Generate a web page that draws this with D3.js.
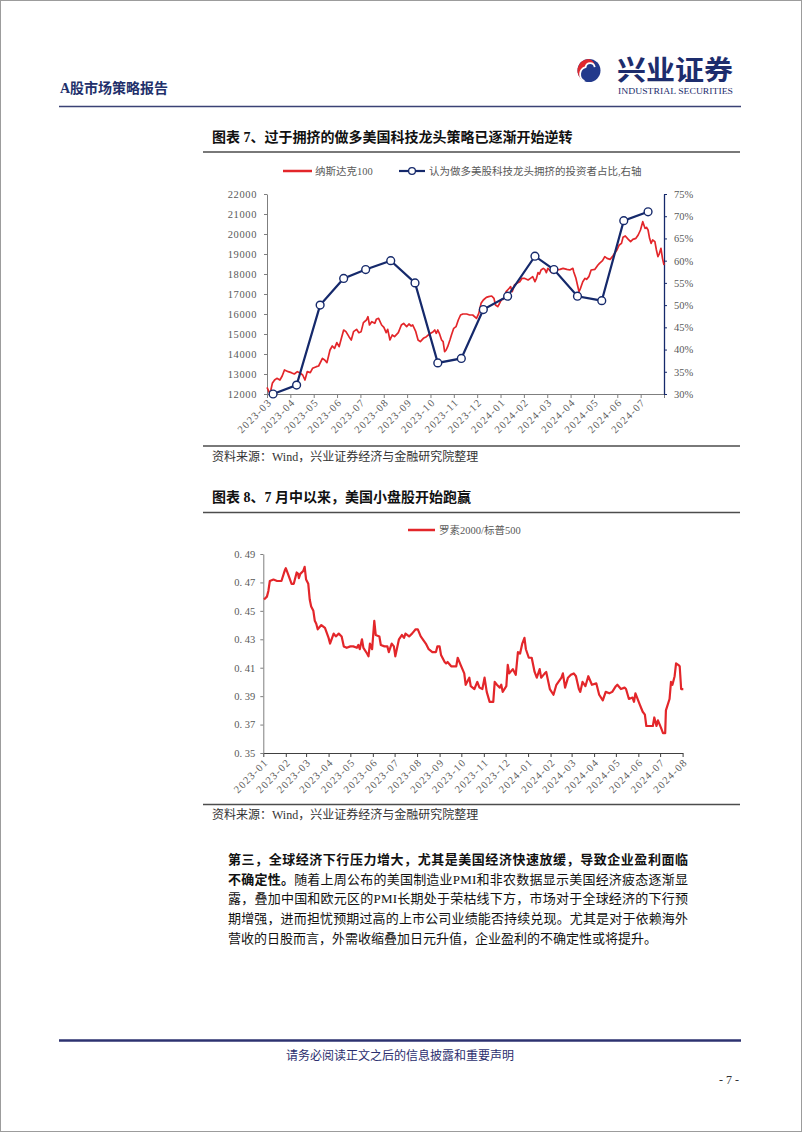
<!DOCTYPE html>
<html>
<head>
<meta charset="utf-8">
<script src="https://cdn.jsdelivr.net/npm/d3@7"></script>
<style>
  body { margin: 0; background: #fff; }
</style>
</head>
<body>
<svg id="chart" width="802" height="1133"></svg>
<script>
// ---------- data: chart 7 ----------
var x1Labels = ['2023-03','2023-04','2023-05','2023-06','2023-07','2023-08','2023-09','2023-10','2023-11',
                '2023-12','2024-01','2024-02','2024-03','2024-04','2024-05','2024-06','2024-07'];
var y1Ticks = [12000,13000,14000,15000,16000,17000,18000,19000,20000,21000,22000];
var y1rTicks = [30,35,40,45,50,55,60,65,70,75];

// 纳斯达克100
var ndxDates = ['2023-03-01','2023-03-05','2023-03-08','2023-03-11','2023-03-14','2023-03-18','2023-03-21','2023-03-24','2023-03-29',
  '2023-04-02','2023-04-06','2023-04-10','2023-04-13','2023-04-17','2023-04-20','2023-04-23','2023-04-27','2023-04-30',
  '2023-05-05','2023-05-08','2023-05-13','2023-05-16','2023-05-19','2023-05-23','2023-05-26','2023-05-29',
  '2023-06-01','2023-06-04','2023-06-07','2023-06-10','2023-06-13','2023-06-17','2023-06-20','2023-06-23','2023-06-27','2023-06-30',
  '2023-07-03','2023-07-06','2023-07-10','2023-07-12','2023-07-14','2023-07-17','2023-07-21','2023-07-23','2023-07-26','2023-07-30',
  '2023-08-02','2023-08-05','2023-08-07','2023-08-10','2023-08-13','2023-08-16','2023-08-21','2023-08-25','2023-08-28',
  '2023-09-01','2023-09-04','2023-09-07','2023-09-09','2023-09-13','2023-09-16','2023-09-19','2023-09-23','2023-09-27',
  '2023-10-01','2023-10-06','2023-10-08','2023-10-10','2023-10-12','2023-10-14','2023-10-17','2023-10-19','2023-10-21','2023-10-23','2023-10-25','2023-10-28','2023-10-30',
  '2023-11-02','2023-11-05','2023-11-08','2023-11-11','2023-11-14','2023-11-19','2023-11-23','2023-11-27',
  '2023-12-02','2023-12-05','2023-12-08','2023-12-11','2023-12-15','2023-12-18','2023-12-22','2023-12-25','2023-12-27','2023-12-30',
  '2024-01-01','2024-01-04','2024-01-06','2024-01-08','2024-01-10','2024-01-12','2024-01-16','2024-01-18','2024-01-21','2024-01-24','2024-01-28','2024-01-31',
  '2024-02-03','2024-02-08','2024-02-11','2024-02-14','2024-02-17','2024-02-19','2024-02-21','2024-02-23','2024-02-25','2024-02-28',
  '2024-03-01','2024-03-03','2024-03-05','2024-03-07','2024-03-10','2024-03-12','2024-03-16','2024-03-21','2024-03-25','2024-03-30',
  '2024-04-03','2024-04-07','2024-04-08','2024-04-11','2024-04-13','2024-04-15','2024-04-17','2024-04-20','2024-04-23','2024-04-25','2024-04-28',
  '2024-05-01','2024-05-06','2024-05-10','2024-05-12','2024-05-16','2024-05-19','2024-05-22','2024-05-26','2024-05-29',
  '2024-06-01','2024-06-04','2024-06-07','2024-06-10','2024-06-12','2024-06-15','2024-06-19','2024-06-22','2024-06-25','2024-06-29',
  '2024-07-02','2024-07-05','2024-07-08','2024-07-11','2024-07-13','2024-07-15','2024-07-17','2024-07-19','2024-07-21','2024-07-24','2024-07-26','2024-07-28','2024-07-30',
  '2024-08-01','2024-08-03','2024-08-05'];
var ndxValues = [12333,12000,12533,12700,12783,12700,12900,13200,13117,
  13067,13000,13117,13067,12950,12700,13117,13067,13283,
  13367,13400,13783,13700,13567,14200,14400,14283,
  14567,14367,14783,15200,15117,14867,14700,15117,15233,15067,
  15117,15567,15700,15867,15450,15617,15533,15733,15783,15450,
  15333,15067,15233,14700,14950,14867,15067,15450,15533,
  15367,15500,15400,15450,15117,14700,14617,14783,14867,
  15000,15117,15200,15033,15200,15033,14700,14617,14117,14200,14367,14700,14950,
  15283,15367,15700,15950,16000,16000,15950,15950,
  15783,16033,16533,16700,16833,16867,16900,16783,16450,16367,
  16500,16733,16733,16867,17117,17200,17367,17117,17450,17533,17617,17783,
  17783,17700,17783,17867,17617,17783,18067,18000,18200,18283,
  18233,18067,18283,18200,18067,18283,18200,18233,18283,18233,
  18200,18283,18117,17783,17450,17117,17283,17617,17783,17733,17867,
  18200,18233,18450,18533,18667,18867,18783,18733,18867,
  19033,19200,19450,19533,19833,19900,19733,19617,19733,19783,
  19950,20200,20617,20283,20333,20200,19783,19533,19700,19617,19200,18867,19033,
  19283,18783,18450];

// 认为做多美股科技龙头拥挤的投资者占比（%）
var crowdDates = ['2023-03-09','2023-04-09','2023-05-10','2023-06-10','2023-07-09','2023-08-11','2023-09-12','2023-10-12','2023-11-12',
  '2023-12-11','2024-01-12','2024-02-17','2024-03-13','2024-04-13','2024-05-15','2024-06-13','2024-07-15'];
var crowdValues = [30,32,50,56,58,60,55,37,38,49,52,61,58,52,51,69,71];

// ---------- data: chart 8 ----------
var x2Labels = ['2023-01','2023-02','2023-03','2023-04','2023-05','2023-06','2023-07','2023-08','2023-09','2023-10',
                '2023-11','2023-12','2024-01','2024-02','2024-03','2024-04','2024-05','2024-06','2024-07','2024-08'];
var y2Ticks = [0.35,0.37,0.39,0.41,0.43,0.45,0.47,0.49];

// 罗素2000/标普500
var ratioDates = ['2023-01-02','2023-01-06','2023-01-08','2023-01-10','2023-01-15','2023-01-20','2023-01-26','2023-01-31',
  '2023-02-01','2023-02-04','2023-02-09','2023-02-12','2023-02-16','2023-02-18','2023-02-19','2023-02-21','2023-02-25','2023-02-27',
  '2023-03-01','2023-03-04','2023-03-06','2023-03-08','2023-03-11','2023-03-13','2023-03-15','2023-03-17','2023-03-22','2023-03-27',
  '2023-04-01','2023-04-03','2023-04-08','2023-04-11','2023-04-15','2023-04-19','2023-04-22','2023-04-26',
  '2023-05-01','2023-05-05','2023-05-10','2023-05-12','2023-05-14','2023-05-17','2023-05-19','2023-05-24','2023-05-26','2023-05-28','2023-05-31',
  '2023-06-03','2023-06-05','2023-06-10','2023-06-12','2023-06-17','2023-06-21','2023-06-23','2023-06-27','2023-06-30',
  '2023-07-02','2023-07-07','2023-07-11','2023-07-14','2023-07-16','2023-07-21','2023-07-25','2023-07-30',
  '2023-08-02','2023-08-06','2023-08-13','2023-08-17','2023-08-22','2023-08-27','2023-08-29',
  '2023-09-01','2023-09-03','2023-09-08','2023-09-10','2023-09-12','2023-09-17','2023-09-24','2023-09-26','2023-09-30',
  '2023-10-05','2023-10-07','2023-10-12','2023-10-14','2023-10-19','2023-10-23','2023-10-26','2023-10-30',
  '2023-11-02','2023-11-05','2023-11-09','2023-11-14','2023-11-16','2023-11-19','2023-11-23','2023-11-25','2023-11-27',
  '2023-12-02','2023-12-04','2023-12-06','2023-12-11','2023-12-15','2023-12-18','2023-12-21','2023-12-24','2023-12-27','2023-12-29',
  '2024-01-02','2024-01-06','2024-01-10','2024-01-13','2024-01-17','2024-01-19','2024-01-24','2024-01-26','2024-01-31',
  '2024-02-05','2024-02-09','2024-02-16','2024-02-18','2024-02-21','2024-02-25','2024-02-29',
  '2024-03-04','2024-03-07','2024-03-11','2024-03-13','2024-03-16','2024-03-20','2024-03-24','2024-03-29',
  '2024-04-04','2024-04-08','2024-04-13','2024-04-17','2024-04-22','2024-04-26',
  '2024-05-01','2024-05-03','2024-05-08','2024-05-13','2024-05-15','2024-05-19','2024-05-24','2024-05-26','2024-05-28',
  '2024-06-03','2024-06-07','2024-06-10','2024-06-12','2024-06-17','2024-06-21','2024-06-23','2024-06-26','2024-06-28',
  '2024-07-02','2024-07-05','2024-07-08','2024-07-09','2024-07-14','2024-07-16','2024-07-18','2024-07-21','2024-07-23','2024-07-26','2024-07-28','2024-07-30',
  '2024-08-02'];
var ratioValues = [0.458,0.460,0.464,0.471,0.472,0.471,0.471,0.479,
  0.480,0.476,0.469,0.469,0.477,0.476,0.473,0.476,0.478,0.481,
  0.472,0.469,0.458,0.453,0.450,0.443,0.441,0.437,0.440,0.438,
  0.431,0.427,0.434,0.432,0.434,0.432,0.425,0.424,
  0.425,0.425,0.424,0.426,0.423,0.430,0.424,0.420,0.418,0.427,0.423,
  0.443,0.433,0.432,0.426,0.425,0.425,0.421,0.427,0.425,
  0.418,0.430,0.433,0.431,0.434,0.432,0.434,0.437,
  0.437,0.432,0.427,0.423,0.421,0.421,0.425,
  0.425,0.419,0.414,0.413,0.414,0.411,0.411,0.417,0.412,
  0.406,0.398,0.403,0.397,0.395,0.400,0.396,0.395,
  0.403,0.393,0.386,0.386,0.400,0.398,0.396,0.398,0.393,
  0.397,0.412,0.406,0.409,0.405,0.421,0.420,0.427,0.431,0.423,
  0.417,0.417,0.407,0.403,0.409,0.403,0.406,0.407,0.395,
  0.391,0.398,0.403,0.406,0.396,0.403,0.405,
  0.406,0.404,0.395,0.393,0.400,0.397,0.404,0.398,
  0.399,0.391,0.387,0.393,0.392,0.393,
  0.397,0.398,0.395,0.396,0.395,0.388,0.389,0.386,0.392,
  0.384,0.379,0.377,0.369,0.369,0.369,0.375,0.369,0.373,
  0.368,0.364,0.364,0.380,0.388,0.400,0.398,0.404,0.413,0.412,0.411,0.395,
  0.395];

// ---------- text ----------
var paraLines = [
  [['b', '第三，全球经济下行压力增大，尤其是美国经济快速放缓，导致企业盈利面临']],
  [['b', '不确定性。'], ['', '随着上周公布的美国制造业PMI和非农数据显示美国经济疲态逐渐显']],
  [['', '露，叠加中国和欧元区的PMI长期处于荣枯线下方，市场对于全球经济的下行预']],
  [['', '期增强，进而担忧预期过高的上市公司业绩能否持续兑现。尤其是对于依赖海外']],
  [['', '营收的日股而言，外需收缩叠加日元升值，企业盈利的不确定性或将提升。']]
];

var parse = d3.timeParse('%Y-%m-%d');
var RED = '#e3262a', NAVY = '#15296b', GREY = '#595959';
var FONT = '"Liberation Serif", "Noto Sans CJK SC", serif';

var svg = d3.select('#chart');

// page frame
svg.append('rect')
    .attr('x', 0.5).attr('y', 0.5).attr('width', 801).attr('height', 1131)
    .attr('fill', 'none').attr('stroke', '#9c9c9c');

// ---------- header ----------
svg.append('text')
    .attr('x', 60).attr('y', 93)
    .attr('font-family', FONT).attr('font-size', 14).attr('font-weight', 700)
    .attr('fill', '#22306b')
    .text('A股市场策略报告');

var logo = svg.append('g').attr('transform', 'translate(589,70.5)');
logo.append('circle').attr('r', 11.5).attr('fill', '#233a8c');
logo.append('path')
    .attr('d', 'M0,-11.5 A11.5,11.5 0 0,0 -4.6,10.6 A7.5,7.5 0 0,1 -3.4,-3.4 A4.6,4.6 0 0,1 5.7,-3.4 A8,8 0 0,0 0,-11.5 Z')
    .attr('fill', '#e0282e');
logo.append('path')
    .attr('d', 'M-4.6,10.6 A7.5,7.5 0 0,1 -3.4,-3.4 A4.6,4.6 0 0,1 5.7,-3.4')
    .attr('fill', 'none').attr('stroke', '#fff').attr('stroke-width', 1.8);

svg.append('text')
    .attr('x', 617).attr('y', 80)
    .attr('font-family', '"Noto Sans CJK SC", sans-serif').attr('font-size', 27).attr('font-weight', 700)
    .attr('fill', '#1d2d6d')
    .attr('textLength', 116).attr('lengthAdjust', 'spacingAndGlyphs')
    .text('兴业证券');
svg.append('text')
    .attr('x', 618).attr('y', 94)
    .attr('font-family', '"Liberation Serif", serif').attr('font-size', 8)
    .attr('fill', '#1d2d6d')
    .attr('textLength', 115).attr('lengthAdjust', 'spacingAndGlyphs')
    .text('INDUSTRIAL SECURITIES');

svg.append('line')
    .attr('x1', 59).attr('x2', 741).attr('y1', 106.5).attr('y2', 106.5)
    .attr('stroke', '#3a4275').attr('stroke-width', 1.5);

// section helpers
function hline(y, w) {
  svg.append('line')
      .attr('x1', 203).attr('x2', 740).attr('y1', y).attr('y2', y)
      .attr('stroke', '#4d4d4d').attr('stroke-width', w);
}
function title(y, txt) {
  svg.append('text')
      .attr('x', 212).attr('y', y)
      .attr('font-family', FONT).attr('font-size', 14).attr('font-weight', 700)
      .attr('fill', '#111')
      .text(txt);
}
function source(y) {
  svg.append('text')
      .attr('x', 212).attr('y', y)
      .attr('font-family', FONT).attr('font-size', 12)
      .attr('fill', '#333')
      .text('资料来源：Wind，兴业证券经济与金融研究院整理');
}
function styleAxis(g, color) {
  g.select('.domain').attr('stroke', color).attr('stroke-width', 1);
  g.selectAll('.tick line').attr('stroke', color);
  g.selectAll('text')
      .attr('fill', GREY)
      .attr('font-family', FONT)
      .attr('font-size', 10.5);
}

// ================= chart 7 =================
title(142, '图表 7、过于拥挤的做多美国科技龙头策略已逐渐开始逆转');
hline(152, 1.5);

var c1 = {left: 267, right: 664, top: 194, bottom: 394};

var x1 = d3.scaleTime()
    .domain([parse('2023-03-01'), parse('2024-08-05')])
    .range([c1.left, c1.right]);
var y1 = d3.scaleLinear().domain([12000, 22000]).range([c1.bottom, c1.top]);
var y1r = d3.scaleLinear().domain([30, 75]).range([c1.bottom, c1.top]);

// evenly spaced ticks across the axis, one label per month
var x1Ticks = d3.range(x1Labels.length + 1).map(function(i) {
  return x1.invert(c1.left + i * (c1.right - c1.left) / x1Labels.length);
});

var gx1 = svg.append('g')
    .attr('transform', 'translate(0,' + c1.bottom + ')')
    .call(d3.axisBottom(x1).tickValues(x1Ticks).tickSize(4).tickSizeOuter(0)
          .tickFormat(function(d, i) { return x1Labels[i] || ''; }));
styleAxis(gx1, '#7f7f7f');
gx1.selectAll('text')
    .attr('x', 0).attr('y', 0).attr('dy', 0)
    .attr('text-anchor', 'end')
    .attr('letter-spacing', 1.2)
    .attr('transform', 'translate(5,9) rotate(-45)');

var gy1 = svg.append('g')
    .attr('transform', 'translate(' + c1.left + ',0)')
    .call(d3.axisLeft(y1).tickValues(y1Ticks).tickSize(3).tickSizeOuter(0).tickFormat(d3.format('d')));
styleAxis(gy1, '#7f7f7f');
gy1.selectAll('text').attr('x', -10).attr('letter-spacing', 0.6);

var gy1r = svg.append('g')
    .attr('transform', 'translate(' + c1.right + ',0)')
    .call(d3.axisRight(y1r).tickValues(y1rTicks).tickSize(3).tickSizeOuter(0)
          .tickFormat(function(d) { return d + '%'; }));
styleAxis(gy1r, NAVY);
gy1r.select('.domain').attr('stroke-width', 1.3);
gy1r.selectAll('text').attr('x', 10);

var ndx = ndxDates.map(function(d, i) { return {date: parse(d), v: ndxValues[i]}; });
var crowd = crowdDates.map(function(d, i) { return {date: parse(d), v: crowdValues[i]}; });

svg.append('path')
    .datum(ndx)
    .attr('fill', 'none').attr('stroke', RED).attr('stroke-width', 1.7)
    .attr('stroke-linejoin', 'round')
    .attr('d', d3.line().x(function(d) { return x1(d.date); }).y(function(d) { return y1(d.v); }));

svg.append('path')
    .datum(crowd)
    .attr('fill', 'none').attr('stroke', NAVY).attr('stroke-width', 2.2)
    .attr('d', d3.line().x(function(d) { return x1(d.date); }).y(function(d) { return y1r(d.v); }));

svg.append('g').selectAll('circle')
    .data(crowd).enter().append('circle')
    .attr('cx', function(d) { return x1(d.date); })
    .attr('cy', function(d) { return y1r(d.v); })
    .attr('r', 3.9)
    .attr('fill', '#fff').attr('stroke', NAVY).attr('stroke-width', 1.4);

// legend
var lg1 = svg.append('g').attr('font-family', FONT).attr('font-size', 10.5).attr('fill', GREY);
lg1.append('line').attr('x1', 283).attr('x2', 312).attr('y1', 171).attr('y2', 171)
    .attr('stroke', RED).attr('stroke-width', 2.5);
lg1.append('text').attr('x', 315).attr('y', 175).text('纳斯达克100');
lg1.append('line').attr('x1', 399).attr('x2', 425).attr('y1', 171).attr('y2', 171)
    .attr('stroke', NAVY).attr('stroke-width', 2.2);
lg1.append('circle').attr('cx', 412).attr('cy', 171).attr('r', 3.4)
    .attr('fill', '#fff').attr('stroke', NAVY).attr('stroke-width', 1.3);
lg1.append('text').attr('x', 429).attr('y', 175).text('认为做多美股科技龙头拥挤的投资者占比,右轴');

hline(446, 1.6);
source(461);

// ================= chart 8 =================
title(501.5, '图表 8、7 月中以来，美国小盘股开始跑赢');
hline(512.5, 1.5);

var c2 = {left: 263.3, right: 682.6, top: 554, bottom: 753};

var x2 = d3.scaleTime()
    .domain([parse('2023-01-01'), parse('2024-08-01')])
    .range([c2.left, c2.right]);
var y2 = d3.scaleLinear().domain([0.35, 0.49]).range([c2.bottom, c2.top]);

var gx2 = svg.append('g')
    .attr('transform', 'translate(0,' + c2.bottom + ')')
    .call(d3.axisBottom(x2)
          .tickValues(x2Labels.map(function(s) { return parse(s + '-01'); }))
          .tickSize(4).tickSizeOuter(0)
          .tickFormat(function(d, i) { return x2Labels[i]; }));
styleAxis(gx2, '#404040');
gx2.selectAll('text')
    .attr('x', 0).attr('y', 0).attr('dy', 0)
    .attr('text-anchor', 'end')
    .attr('letter-spacing', 1.2)
    .attr('transform', 'translate(5,10) rotate(-45)');

var gy2 = svg.append('g')
    .attr('transform', 'translate(' + c2.left + ',0)')
    .call(d3.axisLeft(y2).tickValues(y2Ticks).tickSize(3).tickSizeOuter(0)
          .tickFormat(function(d) { return d3.format('.2f')(d).replace('.', '. '); }));
styleAxis(gy2, '#7f7f7f');
gy2.selectAll('text').attr('x', -8).style('white-space', 'pre');

var ratio = ratioDates.map(function(d, i) { return {date: parse(d), v: ratioValues[i]}; });

svg.append('path')
    .datum(ratio)
    .attr('fill', 'none').attr('stroke', RED).attr('stroke-width', 2.2)
    .attr('stroke-linejoin', 'round')
    .attr('d', d3.line().x(function(d) { return x2(d.date); }).y(function(d) { return y2(d.v); }));

var lg2 = svg.append('g').attr('font-family', FONT).attr('font-size', 10.5).attr('fill', GREY);
lg2.append('line').attr('x1', 408).attr('x2', 435).attr('y1', 530).attr('y2', 530)
    .attr('stroke', RED).attr('stroke-width', 2.5);
lg2.append('text').attr('x', 439).attr('y', 534).text('罗素2000/标普500');

hline(804.5, 1.6);
source(819);

// ---------- body paragraph (lines 1-4 justified to 460px) ----------
var paraLeft = 228, paraWidth = 460;
paraLines.forEach(function(line, i) {
  var t = svg.append('text')
      .attr('x', paraLeft).attr('y', 864 + i * 19.7)
      .attr('font-family', FONT).attr('font-size', 13)
      .attr('fill', '#111');
  line.forEach(function(seg) {
    t.append('tspan').attr('font-weight', seg[0] === 'b' ? 700 : 400).text(seg[1]);
  });
  if (i < paraLines.length - 1) {
    var w = t.node().getComputedTextLength();
    var n = t.text().length;
    t.attr('letter-spacing', (paraWidth - w) / (n - 1));
  }
});

// ---------- footer ----------
svg.append('line')
    .attr('x1', 59).attr('x2', 741).attr('y1', 1040.5).attr('y2', 1040.5)
    .attr('stroke', '#2d3270').attr('stroke-width', 2.5);
svg.append('text')
    .attr('x', 400).attr('y', 1060).attr('text-anchor', 'middle')
    .attr('font-family', FONT).attr('font-size', 12)
    .attr('fill', '#2b2e6e')
    .text('请务必阅读正文之后的信息披露和重要声明');
svg.append('text')
    .attr('x', 739).attr('y', 1084).attr('text-anchor', 'end')
    .attr('font-family', FONT).attr('font-size', 12)
    .attr('fill', '#333')
    .text('- 7 -');
</script>
</body>
</html>
